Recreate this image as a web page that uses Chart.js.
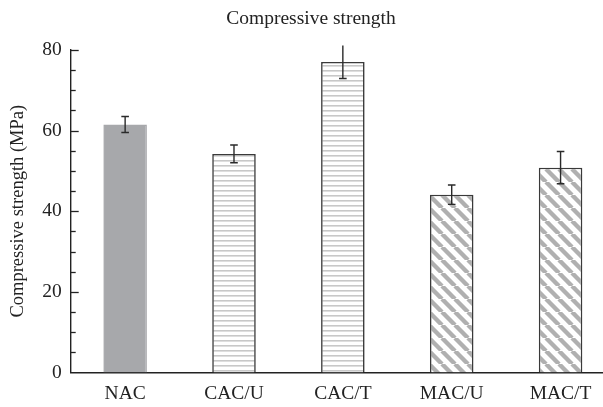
<!DOCTYPE html>
<html>
<head>
<meta charset="utf-8">
<script src="https://cdn.jsdelivr.net/npm/chart.js@4"></script>
<style>
  html, body { margin: 0; padding: 0; background: #fff; overflow: hidden; }
  #wrap { width: 603px; height: 407px; overflow: hidden; position: relative; }
  #box { width: 625px; height: 407px; position: absolute; left: 0; top: 0; }
</style>
</head>
<body>
<div id="wrap"><div id="box"><canvas id="c"></canvas></div></div>
<script>
const categories = ["NAC", "CAC/U", "CAC/T", "MAC/U", "MAC/T"];
const strength = [61.5, 54.2, 77.0, 44.1, 50.8];
const strengthErr = [2.0, 2.2, 4.1, 2.4, 4.0];
const yTicksMajor = [0, 20, 40, 60, 80];
const fillKinds = ["solid", "hlines", "hlines", "diag", "diag"];

function makeHLines() {
  const p = document.createElement('canvas');
  p.width = 10; p.height = 5;
  const g = p.getContext('2d');
  g.fillStyle = '#ffffff'; g.fillRect(0, 0, 10, 5);
  g.fillStyle = '#c8c8c8'; g.fillRect(0, 0, 10, 1.6);
  return g.createPattern(p, 'repeat');
}
function makeDiag() {
  const s = 13;
  const p = document.createElement('canvas');
  p.width = s; p.height = s;
  const g = p.getContext('2d');
  g.fillStyle = '#ffffff'; g.fillRect(0, 0, s, s);
  g.strokeStyle = '#b0b0b0'; g.lineWidth = 4.4;
  for (const o of [-s, 0, s]) {
    g.beginPath(); g.moveTo(o, 0); g.lineTo(o + s, s); g.stroke();
  }
  return g.createPattern(p, 'repeat');
}
const ctx0 = document.getElementById('c').getContext('2d');
const pats = { solid: '#a7a8ab', hlines: makeHLines(), diag: makeDiag() };
const fills = fillKinds.map(k => pats[k]);
const borders = fillKinds.map(k => k === 'solid' ? '#a7a8ab' : '#3a3a3a');

const SERIF = "'Liberation Serif', 'DejaVu Serif', serif";

const decorPlugin = {
  id: 'decor',
  afterDatasetsDraw(chart) {
    const ctx = chart.ctx;
    const meta = chart.getDatasetMeta(0);
    const y = chart.scales.y;
    ctx.save();
    ctx.strokeStyle = '#2a2a2a';
    ctx.lineWidth = 1.4;
    meta.data.forEach((bar, i) => {
      const v = strength[i], e = strengthErr[i];
      const yt = y.getPixelForValue(v + e);
      const yb = y.getPixelForValue(v - e);
      const x = bar.x;
      ctx.beginPath();
      ctx.moveTo(x, yt); ctx.lineTo(x, yb);
      if (v + e <= y.max) { ctx.moveTo(x - 3.8, yt); ctx.lineTo(x + 3.8, yt); }
      ctx.moveTo(x - 3.8, yb); ctx.lineTo(x + 3.8, yb);
      ctx.stroke();
    });
    const x0 = chart.chartArea.left;
    ctx.strokeStyle = '#222';
    ctx.lineWidth = 1.3;
    for (let t = 5; t <= 80; t += 5) {
      const py = Math.round(y.getPixelForValue(t)) + 0.5;
      const len = yTicksMajor.includes(t) ? 8 : 5;
      ctx.beginPath(); ctx.moveTo(x0, py); ctx.lineTo(x0 + len, py); ctx.stroke();
    }
    ctx.restore();
  }
};

new Chart(ctx0, {
  type: 'bar',
  data: {
    labels: categories,
    datasets: [{
      data: strength,
      backgroundColor: fills,
      borderColor: borders,
      borderWidth: 1.6,
      borderSkipped: 'bottom',
      barPercentage: 0.4,
      categoryPercentage: 1.0
    }]
  },
  options: {
    responsive: true,
    maintainAspectRatio: false,
    animation: false,
    events: [],
    layout: { padding: { left: 7, right: 10, top: 0, bottom: 0 } },
    plugins: {
      legend: { display: false },
      tooltip: { enabled: false },
      title: {
        display: true,
        text: 'Compressive strength',
        color: '#222',
        font: { family: SERIF, size: 19.5, weight: 'normal' },
        padding: { top: 7, bottom: 19.5 }
      }
    },
    scales: {
      x: {
        afterFit(scale) { scale.height = 34.5; },
        grid: { display: false, drawTicks: false },
        border: { display: true, color: '#222', width: 1.4 },
        ticks: { color: '#222', font: { family: SERIF, size: 19.5 }, padding: 10 }
      },
      y: {
        min: 0, max: 80,
        afterBuildTicks(scale) { scale.ticks = yTicksMajor.map(v => ({ value: v })); },
        grid: { display: false, drawTicks: false },
        border: { display: true, color: '#222', width: 1.4 },
        ticks: { color: '#222', font: { family: SERIF, size: 19.5 }, padding: 9 },
        title: {
          display: true,
          text: 'Compressive strength (MPa)',
          color: '#222',
          font: { family: SERIF, size: 18.5 },
          padding: { top: 0, bottom: 4 }
        }
      }
    }
  },
  plugins: [decorPlugin]
});
</script>
</body>
</html>
